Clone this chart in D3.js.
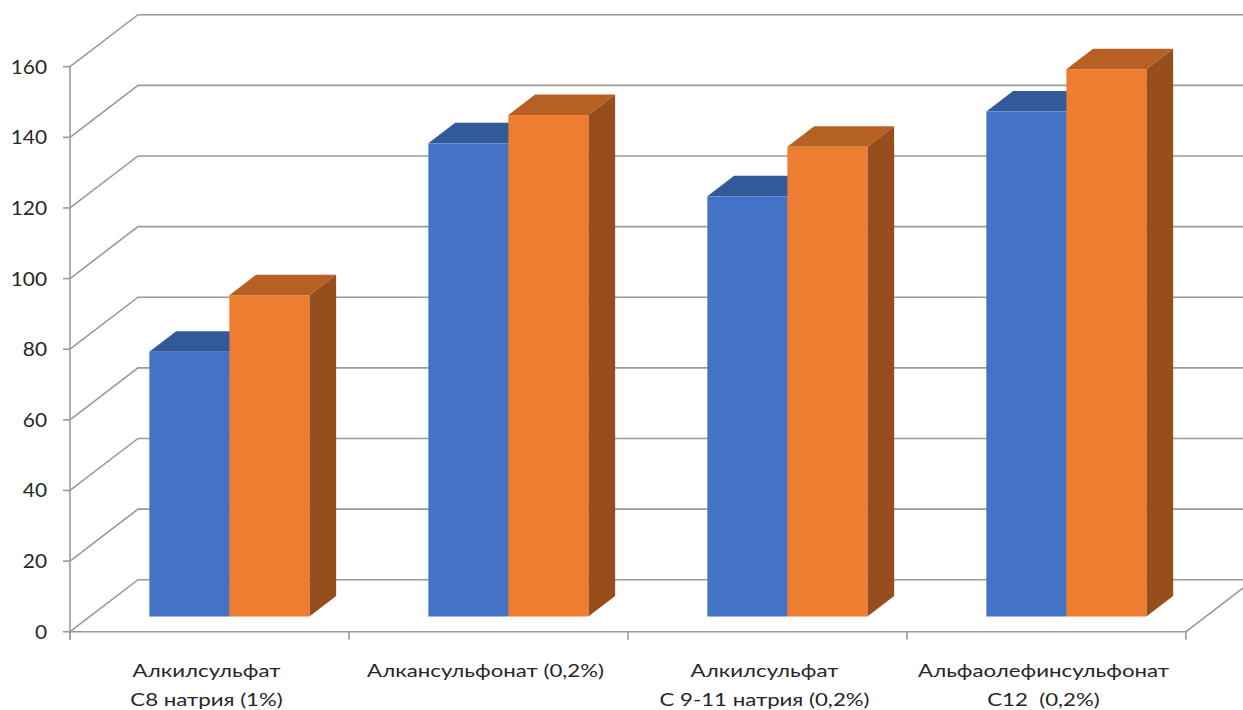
<!DOCTYPE html>
<html>
<head>
<meta charset="utf-8">
<script src="https://cdn.jsdelivr.net/npm/d3@7"></script>
<style>
  html, body { margin: 0; padding: 0; background: #fff; }
  svg { display: block; }
  text { font-family: Lato, "Noto Sans", sans-serif; fill: #262626; }
</style>
</head>
<body>
<svg id="chart" width="1243" height="710"></svg>
<script>
// Category labels (each entry is a list of text lines)
const categories = [
  ["Алкилсульфат", "С8 натрия (1%)"],
  ["Алкансульфонат (0,2%)"],
  ["Алкилсульфат", "С 9-11 натрия (0,2%)"],
  ["Альфаолефинсульфонат", "С12  (0,2%)"]
];
const seriesNames = ["Ряд 1", "Ряд 2"];
const series1 = [75, 134, 119, 143];
const series2 = [91, 142, 133, 155];
const yTicks = [0, 20, 40, 60, 80, 100, 120, 140, 160];

const colors = {
  "Ряд 1": { front: "#4472C4", top: "#32599A", side: "#2B4C85" },
  "Ряд 2": { front: "#ED7D31", top: "#B66024", side: "#974E1D" }
};

const svg = d3.select("#chart");

// Oblique projection: front plane of the plot, plus a depth vector
const plotLeft = 70, plotRight = 1186, plotBottom = 631.7, plotTop = 66.7;
const depth = { dx: 68, dy: -52 };
const barDepth = { t0: 0.292, t1: 0.686 };
const off = t => [depth.dx * t, depth.dy * t];

const y = d3.scaleLinear().domain([0, 160]).range([plotBottom, plotTop]);
const catIdx = d3.range(categories.length);
const x0 = d3.scaleBand().domain(catIdx).range([plotLeft, plotRight])
  .paddingInner(0.4265).paddingOuter(0.4265 / 2);
const x1 = d3.scaleBand().domain(seriesNames).range([0, x0.bandwidth()]);

const gridColor = "#9a9a9a";
const grid = svg.append("g").attr("stroke", gridColor).attr("stroke-width", 1.6).attr("fill", "none");

// Back wall and left wall gridlines
const [bx, by] = off(1);
yTicks.forEach(v => {
  grid.append("path").attr("d", d3.line()([
    [plotLeft, y(v)], [plotLeft + bx, y(v) + by], [plotRight + bx, y(v) + by]
  ]));
});

// Floor front edge and right edge
grid.append("path").attr("d", d3.line()([
  [plotLeft, y(0)], [plotRight, y(0)], [plotRight + bx, y(0) + by]
]));

// Vertical axis with ticks
grid.append("path").attr("d", d3.line()([[plotLeft, y(160)], [plotLeft, y(0) + 8]]));
yTicks.forEach(v => {
  grid.append("path").attr("d", d3.line()([[plotLeft - 7, y(v)], [plotLeft, y(v)]]));
});
// Category boundary ticks
const boundaries = catIdx.map(i => x0(i) - x0.step() * x0.paddingInner() / 2).concat([plotRight]);
boundaries.forEach(bxv => {
  grid.append("path").attr("d", d3.line()([[bxv, y(0)], [bxv, y(0) + 8]]));
});

// Y tick labels (slightly widened glyphs)
svg.append("g").selectAll("text").data(yTicks).join("text")
  .attr("transform", d => `translate(47,${y(d)}) scale(1.13,1)`)
  .attr("text-anchor", "end").attr("dominant-baseline", "central")
  .attr("font-size", 18.5)
  .text(d => d);

// 3D bars
const [fx, fy] = off(barDepth.t0);
const [kx, ky] = off(barDepth.t1);
const bars = svg.append("g");
catIdx.forEach(i => {
  const vals = { "Ряд 1": series1[i], "Ряд 2": series2[i] };
  seriesNames.forEach(s => {
    const v = vals[s];
    const xl = x0(i) + x1(s) + fx, xr = xl + x1.bandwidth();
    const yt = y(v) + fy, yb = y(0) + fy;
    const ddx = kx - fx, ddy = ky - fy;
    const c = colors[s];
    // right side face
    bars.append("path").attr("fill", c.side).attr("d", d3.line()([
      [xr, yt], [xr + ddx, yt + ddy], [xr + ddx, yb + ddy], [xr, yb]
    ]) + "Z");
    // top face
    bars.append("path").attr("fill", c.top).attr("d", d3.line()([
      [xl, yt], [xl + ddx, yt + ddy], [xr + ddx, yt + ddy], [xr, yt]
    ]) + "Z");
    // front face
    bars.append("rect").attr("fill", c.front)
      .attr("x", xl).attr("y", yt).attr("width", xr - xl).attr("height", yb - yt);
  });
});

// Category labels
const labels = svg.append("g");
catIdx.forEach(i => {
  const cx = x0(i) + x0.bandwidth() / 2 - 3;
  const t = labels.append("text").attr("text-anchor", "middle").attr("font-size", 17.5)
    .attr("transform", `translate(${cx},0) scale(1.27,1)`);
  categories[i].forEach((line, k) => {
    t.append("tspan").attr("x", 0).attr("y", 677 + k * 29.5)
      .attr("xml:space", "preserve").style("white-space", "pre").text(line);
  });
});
</script>
</body>
</html>
